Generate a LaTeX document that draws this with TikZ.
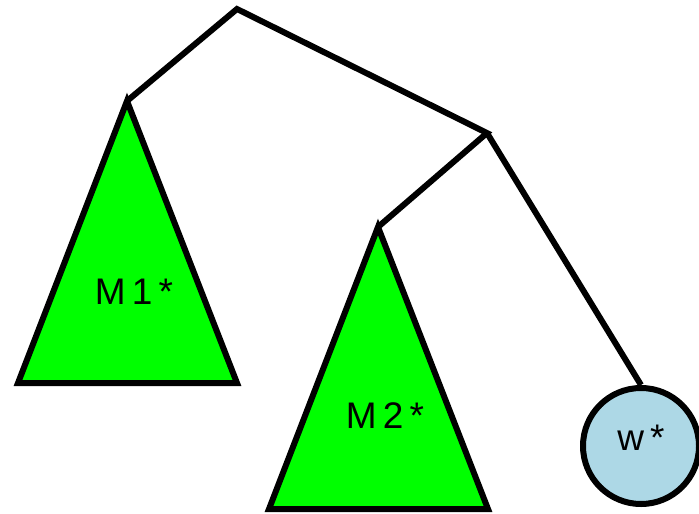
\documentclass[tikz,border=0pt]{standalone}
\usepackage{fontspec}
\setmainfont{Liberation Sans}
\definecolor{tgreen}{RGB}{0,255,0}
\definecolor{lblue}{RGB}{173,216,230}
\begin{document}
\begin{tikzpicture}[x=1pt,y=-1pt,
  edge/.style={line width=6pt},
  tri/.style={line width=6pt,fill=tgreen,line join=miter},
  lbl/.style={font=\fontsize{37}{40}\selectfont,inner sep=0pt}]
\useasboundingbox (0,0) rectangle (699,514);
\coordinate (root) at (237,9);
\coordinate (a1) at (127,101);
\coordinate (in) at (487,133);
\coordinate (a2) at (378,227);
\draw[tri] (a1) -- (237,383) -- (18,383) -- cycle;
\draw[tri] (a2) -- (488,509) -- (269,509) -- cycle;
\node[circle,draw,line width=6pt,fill=lblue,minimum size=116pt,inner sep=0pt] (w) at (641,446) {};
\draw[edge,line join=miter] (a1) -- (root) -- (in) -- (a2);
\draw[edge] (in) -- (w.north);
\node[lbl] (m1) at (134,292) {M\,1\,*};
\node[lbl] (m2) at (385,416) {M\,2\,*};
\node[lbl] (wl) at (641,438) {w\,*};
\end{tikzpicture}
\end{document}
